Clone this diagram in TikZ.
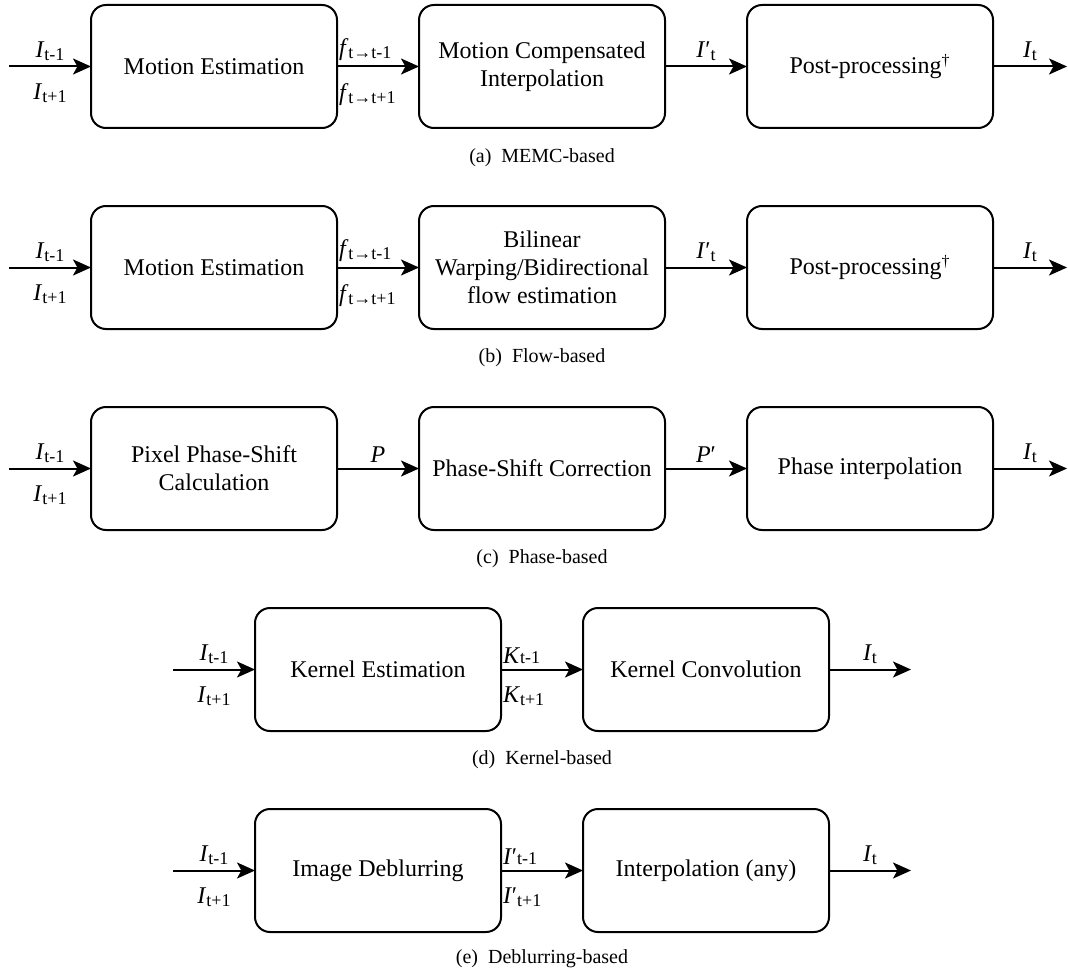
\documentclass[tikz,border=0pt]{standalone}
\usepackage{fontspec}
\setmainfont{Liberation Serif}
\usetikzlibrary{positioning,calc,arrows.meta}

\newcommand\subtx[1]{\raisebox{-1.5pt}{\fontsize{9}{10}\selectfont #1}}
\newcommand\smtx[1]{{\fontsize{9}{10}\selectfont #1}}

\tikzset{
  blockbox/.style={draw, line width=1pt, outer sep=0pt, rounded corners=7.5pt, minimum width=123pt,
    minimum height=61.5pt, align=center, font=\fontsize{12}{14}\selectfont},
  flow/.style={line width=1pt, -{Stealth[length=9pt,width=8pt,inset=2.2pt]}},
  uplbl/.style={above=2.5pt, inner sep=0pt, font=\fontsize{12}{14}\selectfont},
  dnlbl/.style={below=8pt, inner sep=0pt, font=\fontsize{12}{14}\selectfont},
  midup/.style={pos=0, anchor=south west, xshift=0.5pt, yshift=2.5pt, inner sep=0pt, font=\fontsize{12}{14}\selectfont},
  middn/.style={pos=0, anchor=north west, xshift=0.5pt, yshift=-8pt, inner sep=0pt, font=\fontsize{12}{14}\selectfont},
  capt/.style={inner sep=0pt, font=\fontsize{10}{12}\selectfont}
}

\begin{document}
\begin{tikzpicture}
\useasboundingbox (0,0) rectangle (534pt,-486.5pt);

\node[blockbox] (a1) at (107pt,-33.25pt) {Motion Estimation};
\node[blockbox, right=41pt of a1] (a2) {Motion Compensated\\Interpolation};
\node[blockbox, right=41pt of a2] (a3) {Post-processing\textsuperscript{\textdagger}};
\coordinate[left=41pt of a1] (ain);
\coordinate[right=37pt of a3] (aout);
\draw[flow] (ain) -- (a1) node[midway, uplbl] {\textit{I}\subtx{t-1}} node[midway, dnlbl] {\textit{I}\subtx{t+1}};
\draw[flow] (a1) -- (a2) node[midup] {\textit{f}\subtx{t→t-1}} node[middn] {\textit{f}\subtx{t→t+1}};
\draw[flow] (a2) -- (a3) node[midway, uplbl] {\textit{I}′\subtx{t}};
\draw[flow] (a3) -- (aout) node[midway, uplbl] {\textit{I}\subtx{t}};
\node[capt] (acap) at ([yshift=-15pt]a2.south) {(a)~ MEMC-based};

\node[blockbox, below=39pt of a1] (b1) {Motion Estimation};
\node[blockbox, right=41pt of b1] (b2) {Bilinear\\Warping/Bidirectional\\flow estimation};
\node[blockbox, right=41pt of b2] (b3) {Post-processing\textsuperscript{\textdagger}};
\coordinate[left=41pt of b1] (bin);
\coordinate[right=37pt of b3] (bout);
\draw[flow] (bin) -- (b1) node[midway, uplbl] {\textit{I}\subtx{t-1}} node[midway, dnlbl] {\textit{I}\subtx{t+1}};
\draw[flow] (b1) -- (b2) node[midup] {\textit{f}\subtx{t→t-1}} node[middn] {\textit{f}\subtx{t→t+1}};
\draw[flow] (b2) -- (b3) node[midway, uplbl] {\textit{I}′\subtx{t}};
\draw[flow] (b3) -- (bout) node[midway, uplbl] {\textit{I}\subtx{t}};
\node[capt] (bcap) at ([yshift=-14.5pt]b2.south) {(b)~ Flow-based};

\node[blockbox, below=39pt of b1] (c1) {Pixel Phase-Shift\\Calculation};
\node[blockbox, right=41pt of c1] (c2) {Phase-Shift Correction};
\node[blockbox, right=41pt of c2] (c3) {Phase interpolation};
\coordinate[left=41pt of c1] (cin);
\coordinate[right=37pt of c3] (cout);
\draw[flow] (cin) -- (c1) node[midway, uplbl] {\textit{I}\subtx{t-1}} node[midway, dnlbl] {\textit{I}\subtx{t+1}};
\draw[flow] (c1) -- (c2) node[midway, uplbl] {\textit{P}};
\draw[flow] (c2) -- (c3) node[midway, uplbl] {\textit{P}′};
\draw[flow] (c3) -- (cout) node[midway, uplbl] {\textit{I}\subtx{t}};
\node[capt] (ccap) at ([yshift=-14.5pt]c2.south) {(c)~ Phase-based};

\node[blockbox, below=39pt of c1, xshift=82pt] (d1) {Kernel Estimation};
\node[blockbox, right=41pt of d1] (d2) {Kernel Convolution};
\coordinate[left=41pt of d1] (din);
\coordinate[right=41pt of d2] (dout);
\draw[flow] (din) -- (d1) node[midway, uplbl] {\textit{I}\subtx{t-1}} node[midway, dnlbl] {\textit{I}\subtx{t+1}};
\draw[flow] (d1) -- (d2) node[midup] {\textit{K}\smtx{t-1}} node[middn] {\textit{K}\subtx{t+1}};
\draw[flow] (d2) -- (dout) node[midway, uplbl] {\textit{I}\subtx{t}};
\node[capt] (dcap) at ($(d1.south east)!.5!(d2.south west)+(0,-14.5pt)$) {(d)~ Kernel-based};

\node[blockbox, below=39pt of d1] (e1) {Image Deblurring};
\node[blockbox, right=41pt of e1] (e2) {Interpolation (any)};
\coordinate[left=41pt of e1] (ein);
\coordinate[right=41pt of e2] (eout);
\draw[flow] (ein) -- (e1) node[midway, uplbl] {\textit{I}\subtx{t-1}} node[midway, dnlbl] {\textit{I}\subtx{t+1}};
\draw[flow] (e1) -- (e2) node[midup] {\textit{I}′\smtx{t-1}} node[middn] {\textit{I}′\subtx{t+1}};
\draw[flow] (e2) -- (eout) node[midway, uplbl] {\textit{I}\subtx{t}};
\node[capt] (ecap) at ($(e1.south east)!.5!(e2.south west)+(0,-13.5pt)$) {(e)~ Deblurring-based};
\end{tikzpicture}
\end{document}
